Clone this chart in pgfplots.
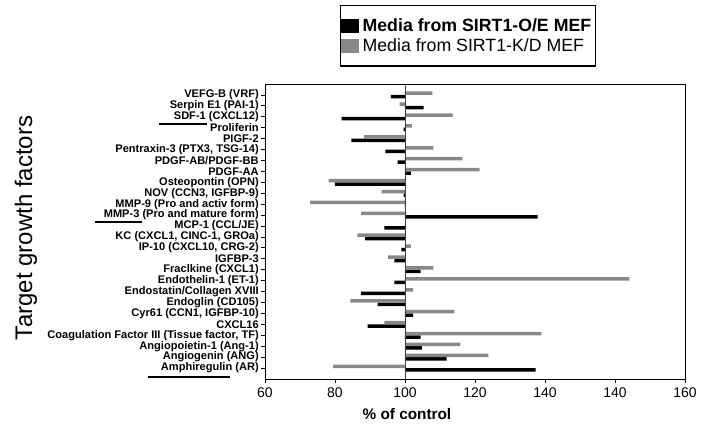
\documentclass[border=0pt]{standalone}
\usepackage{fontspec}
\setmainfont{Liberation Sans}
\usepackage{pgfplots}
\pgfplotsset{compat=1.18}
\definecolor{barblack}{RGB}{0,0,0}
\definecolor{bargray}{RGB}{136,136,136}
\begin{document}
\begin{tikzpicture}[x=1pt,y=1pt]
\path[use as bounding box] (0,0) rectangle (525.75,318.75);
\begin{axis}[
  name=ax,
  at={(198.75pt,34.5pt)}, anchor=south west,
  scale only axis, width=315pt, height=221.25pt,
  xbar, bar width=0.32,
  x coord trafo/.code={\pgfmathparse{#1-100}},
  x coord inv trafo/.code={\pgfmathparse{#1+100}},
  xmin=60, xmax=180,
  xtick={60,80,100,120,140,160,180},
  xticklabels={60,80,100,120,140,140,160},
  y dir=reverse, ymin=0, ymax=27,
  ytick={1,...,26},
  yticklabels={{VEFG-B (VRF)},{Serpin E1 (PAI-1)},{SDF-1 (CXCL12)},{Proliferin},{PIGF-2},{Pentraxin-3 (PTX3, TSG-14)},{PDGF-AB/PDGF-BB},{PDGF-AA},{Osteopontin (OPN)},{NOV (CCN3, IGFBP-9)},{MMP-9 (Pro and activ form)},{MMP-3 (Pro and mature form)},{MCP-1 (CCL/JE)},{KC (CXCL1, CINC-1, GROa)},{IP-10 (CXCL10, CRG-2)},{IGFBP-3},{Fraclkine (CXCL1)},{Endothelin-1 (ET-1)},{Endostatin/Collagen XVIII},{Endoglin (CD105)},{Cyr61 (CCN1, IGFBP-10)},{CXCL16},{Coagulation Factor III (Tissue factor, TF)},{Angiopoietin-1 (Ang-1)},{Angiogenin (ANG)},{Amphiregulin (AR)}},
  yticklabel style={font=\fontsize{8.3}{8.5}\selectfont\bfseries, inner xsep=1.5pt},
  xticklabel style={font=\fontsize{10.5}{12}\selectfont},
  /pgf/number format/assume math mode=true,
  tick align=outside, major tick length=3pt,
  xtick pos=left, ytick pos=left,
  axis line style={black, line width=0.7pt},
  tick style={black, line width=0.6pt},
  xlabel={\textbf{\% of control}},
  xlabel style={font=\fontsize{11.5}{13}\selectfont, at={(axis description cs:0.338,-0.119)}, anchor=center},
  ylabel={Target growth factors},
  ylabel style={font=\fontsize{18}{20}\selectfont, at={(axis description cs:-0.569,0.512)}, anchor=center},
  legend image code/.code={\fill[#1] (0pt,-5.25pt) rectangle (13.5pt,5.25pt);},
  legend style={at={(axis description cs:0.1786,1.2678)}, anchor=north west,
    draw=black, line width=0.9pt, inner xsep=0pt, inner ysep=8.5pt,
    font=\fontsize{13.3}{15}\selectfont, row sep=2pt,
    nodes={inner ysep=1pt, inner xsep=3pt}},
  legend cell align=left,
  clip=false,
]
\addplot[fill=barblack, draw=none, bar shift=0.16] coordinates {
(96,1) (105.3,2) (81.9,3) (99.6,4) (84.7,5) (94.4,6) (97.9,7) (101.7,8) (80,9) (99.6,10)
(100,11) (137.9,12) (94.1,13) (88.6,14) (99,15) (97,16) (104.5,17) (97,18) (87.4,19) (92.2,20)
(102.3,21) (89.3,22) (104.5,23) (104.8,24) (111.9,25) (137.3,26)};
\addlegendentry{\textbf{Media from SIRT1-O/E MEF}}
\addplot[fill=bargray, draw=none, bar shift=-0.16] coordinates {
(107.8,1) (98.5,2) (113.6,3) (102,4) (88.3,5) (108.1,6) (116.4,7) (121.3,8) (78.2,9) (93.3,10)
(72.9,11) (87.5,12) (100,13) (86.4,14) (101.7,15) (95.2,16) (108.1,17) (164.1,18) (102.3,19) (84.4,20)
(114.1,21) (94.1,22) (139,23) (115.8,24) (123.8,25) (79.5,26)};
\addlegendentry{Media from SIRT1-K/D MEF}
% vertical reference line at 100 %
\draw[black!75, line width=0.6pt] (rel axis cs:0.33333,0) -- (rel axis cs:0.33333,1);
\end{axis}
\draw[black, line width=0.7pt] (ax.south west) rectangle (ax.north east);
% hand-drawn underlines of the original figure
\draw[line width=1.5pt] (119.25,226.0) -- (155.25,226.0);
\draw[line width=1.5pt] (71.25,152.0) -- (106.5,152.0);
\draw[line width=1.5pt] (111,36.0) -- (172.5,36.0);
\end{tikzpicture}
\end{document}
